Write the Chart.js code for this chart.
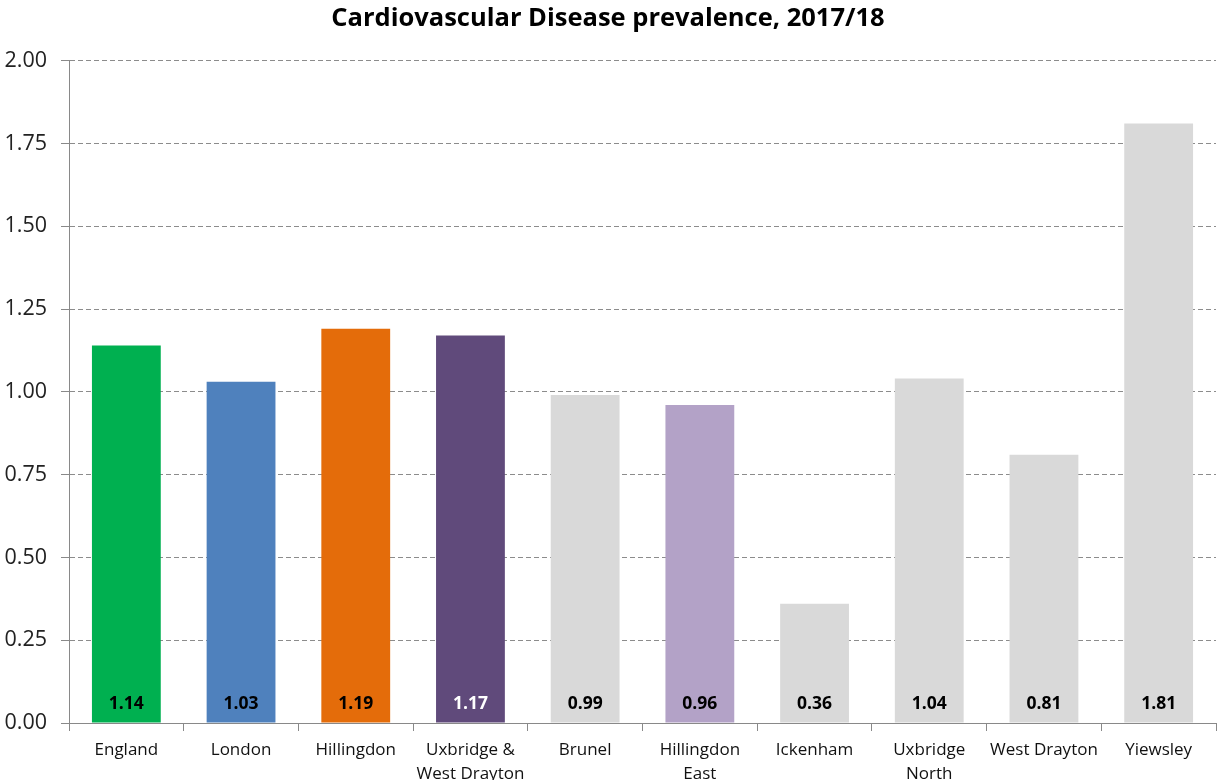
<!DOCTYPE html>
<html>
<head>
<meta charset="utf-8">
<script src="https://cdn.jsdelivr.net/npm/chart.js@4"></script>
<style>
  html, body { margin: 0; padding: 0; background: #fff; overflow: hidden; }
  #wrap { width: 1217px; height: 800px; }
</style>
</head>
<body>
<div id="wrap"><canvas id="chart"></canvas></div>
<script>
const labels = ["England", "London", "Hillingdon", ["Uxbridge &", "West Drayton"], "Brunel",
  ["Hillingdon", "East"], "Ickenham", ["Uxbridge", "North"], "West Drayton", "Yiewsley"];
const values = [1.14, 1.03, 1.19, 1.17, 0.99, 0.96, 0.36, 1.04, 0.81, 1.81];
const colors = ["#00B050", "#4F81BD", "#E46C0A", "#604A7B", "#D9D9D9",
  "#B3A2C7", "#D9D9D9", "#D9D9D9", "#D9D9D9", "#D9D9D9"];
const labelColors = ["#000", "#000", "#000", "#fff", "#000", "#000", "#000", "#000", "#000", "#000"];
const yTicks = [0, 0.25, 0.5, 0.75, 1, 1.25, 1.5, 1.75, 2];

const font = "'Open Sans', 'DejaVu Sans', sans-serif";

// value labels near the base of each bar
const baseLabels = {
  id: "baseLabels",
  afterDatasetsDraw(chart) {
    const ctx = chart.ctx;
    const meta = chart.getDatasetMeta(0);
    const y0 = chart.scales.y.getPixelForValue(0);
    ctx.save();
    ctx.font = "bold 17.5px " + font;
    ctx.textAlign = "center";
    ctx.textBaseline = "middle";
    meta.data.forEach((bar, i) => {
      ctx.fillStyle = labelColors[i];
      ctx.fillText(values[i].toFixed(2), bar.x, y0 - 19);
    });
    ctx.restore();
  }
};

new Chart(document.getElementById("chart").getContext("2d"), {
  type: "bar",
  data: {
    labels: labels,
    datasets: [{
      data: values,
      backgroundColor: colors,
      borderWidth: 0,
      categoryPercentage: 1,
      barPercentage: 0.6
    }]
  },
  options: {
    responsive: true,
    maintainAspectRatio: false,
    animation: false,
    layout: { padding: { left: 0, right: 1, top: 0, bottom: 0 } },
    plugins: {
      legend: { display: false },
      tooltip: { enabled: false },
      title: {
        display: true,
        text: "Cardiovascular Disease prevalence, 2017/18",
        color: "#000",
        font: { family: font, size: 25.5, weight: "bold", lineHeight: 1.2 },
        padding: { top: 3, bottom: 27 }
      }
    },
    scales: {
      x: {
        afterFit: (s) => { s.height = 77; },
        grid: {
          offset: true,
          drawOnChartArea: false,
          drawTicks: true,
          tickLength: 8,
          color: "#898989",
          tickColor: "#898989"
        },
        border: { display: true, color: "#898989", width: 1 },
        ticks: {
          color: "#111",
          padding: 7,
          maxRotation: 0,
          autoSkip: false,
          font: { family: font, size: 17, lineHeight: 1.4 }
        }
      },
      y: {
        min: 0,
        max: 2,
        afterFit: (s) => { s.width = 69; },
        afterBuildTicks: (s) => { s.ticks = yTicks.map(v => ({ value: v })); },
        grid: {
          color: (c) => c.tick && c.tick.value === 0 ? "rgba(0,0,0,0)" : "#8c8c8c",
          tickColor: "#898989",
          tickLength: 8,
          tickBorderDash: [],
          borderDash: [5, 3]
        },
        border: { display: true, color: "#898989", width: 1, dash: [5, 3] },
        ticks: {
          color: "#222",
          padding: 14,
          font: { family: font, size: 21.5 },
          callback: (v) => Number(v).toFixed(2)
        }
      }
    }
  },
  plugins: [baseLabels]
});
</script>
</body>
</html>
